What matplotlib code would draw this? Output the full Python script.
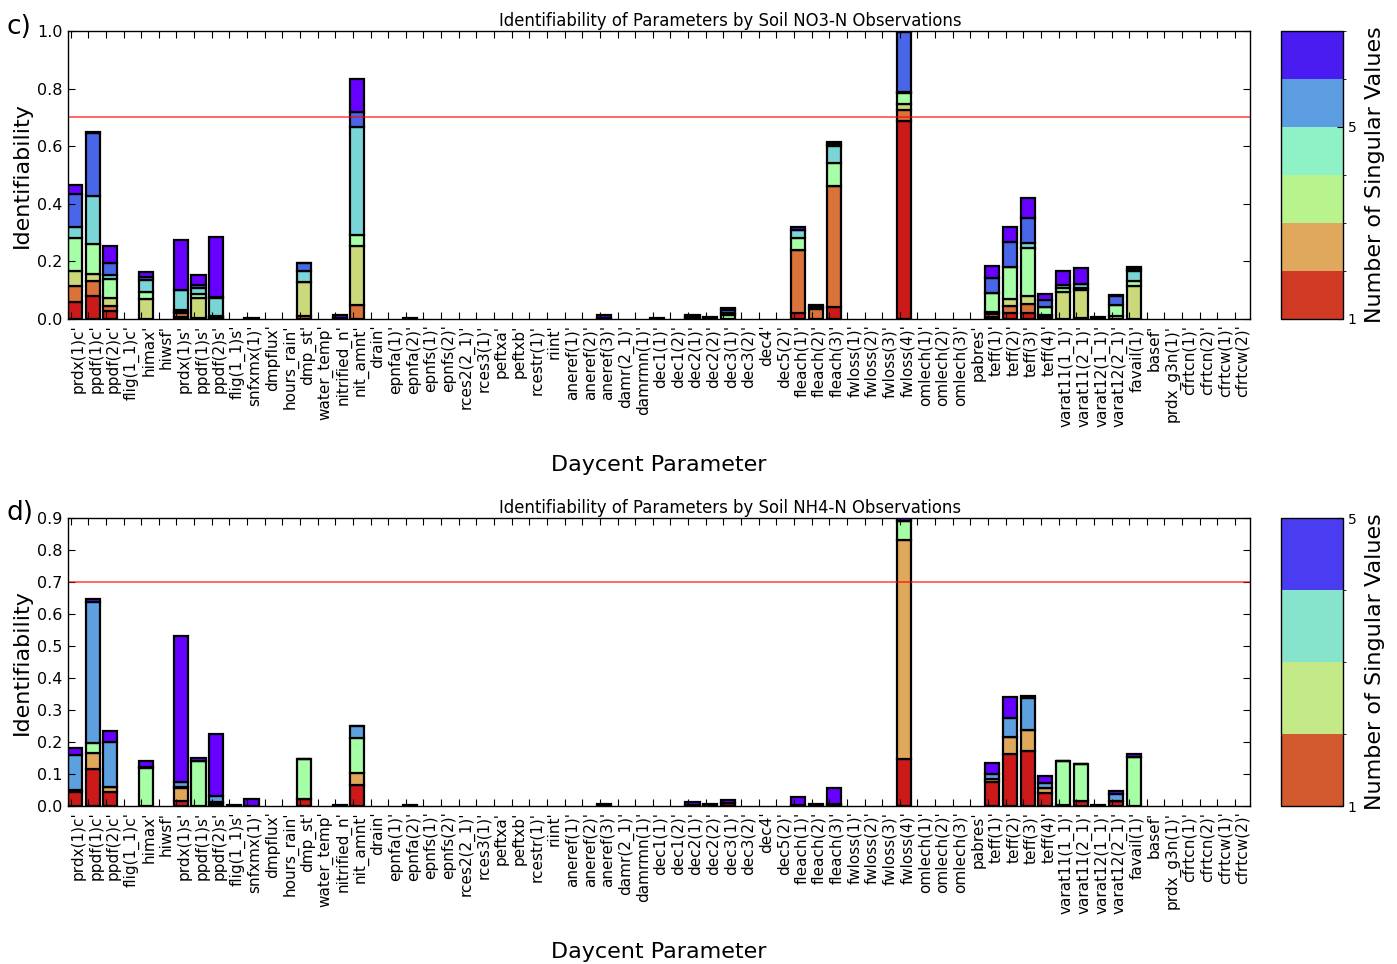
import matplotlib
matplotlib.use('Agg')

import numpy as np
import matplotlib.pyplot as plt
from matplotlib.colors import ListedColormap, BoundaryNorm
from matplotlib.colorbar import ColorbarBase

# Daycent parameters (x axis)
params = ["prdx(1)c", "ppdf(1)c", "ppdf(2)c", "flig(1_1)c", "himax", "hiwsf",
          "prdx(1)s", "ppdf(1)s", "ppdf(2)s", "flig(1_1)s", "snfxmx(1)", "dmpflux",
          "hours_rain", "dmp_st", "water_temp", "nitrified_n", "nit_amnt", "drain",
          "epnfa(1)", "epnfa(2)", "epnfs(1)", "epnfs(2)", "rces2(2_1)", "rces3(1)",
          "peftxa", "peftxb", "rcestr(1)", "riint", "aneref(1)", "aneref(2)",
          "aneref(3)", "damr(2_1)", "damrmn(1)", "dec1(1)", "dec1(2)", "dec2(1)",
          "dec2(2)", "dec3(1)", "dec3(2)", "dec4", "dec5(2)", "fleach(1)",
          "fleach(2)", "fleach(3)", "fwloss(1)", "fwloss(2)", "fwloss(3)", "fwloss(4)",
          "omlech(1)", "omlech(2)", "omlech(3)", "pabres", "teff(1)", "teff(2)",
          "teff(3)", "teff(4)", "varat11(1_1)", "varat11(2_1)", "varat12(1_1)",
          "varat12(2_1)", "favail(1)", "basef", "prdx_g3n(1)", "cfrtcn(1)",
          "cfrtcn(2)", "cfrtcw(1)", "cfrtcw(2)"]

# --- soil NO3-N: parameters with nonzero identifiability and the
# contribution of each singular vector (stacked bottom -> top)
no3_idx = [0, 1, 2, 4, 6, 7, 8, 10, 13, 15, 16, 19, 30, 33, 35, 36, 37,
           41, 42, 43, 47, 52, 53, 54, 55, 56, 57, 58, 59, 60]
no3_sv1 = [0.060, 0.080, 0.029, 0.000, 0.007, 0.002, 0.004, 0.000, 0.000, 0.000,
           0.000, 0.000, 0.000, 0.000, 0.000, 0.000, 0.000,
           0.020, 0.000, 0.043, 0.687, 0.008, 0.020, 0.020, 0.005,
           0.000, 0.003, 0.000, 0.000, 0.000]
no3_sv2 = [0.053, 0.052, 0.016, 0.000, 0.015, 0.002, 0.003, 0.000, 0.012, 0.000,
           0.049, 0.000, 0.000, 0.000, 0.000, 0.000, 0.000,
           0.220, 0.034, 0.420, 0.037, 0.008, 0.026, 0.032, 0.005,
           0.000, 0.000, 0.000, 0.000, 0.000]
no3_sv3 = [0.055, 0.023, 0.029, 0.068, 0.003, 0.070, 0.003, 0.000, 0.116, 0.000,
           0.205, 0.000, 0.000, 0.000, 0.000, 0.000, 0.000,
           0.000, 0.006, 0.000, 0.023, 0.010, 0.022, 0.029, 0.004,
           0.095, 0.098, 0.000, 0.012, 0.113]
no3_sv4 = [0.112, 0.107, 0.064, 0.026, 0.005, 0.013, 0.000, 0.000, 0.000, 0.000,
           0.038, 0.000, 0.000, 0.000, 0.004, 0.000, 0.014,
           0.040, 0.000, 0.079, 0.038, 0.063, 0.114, 0.165, 0.029,
           0.011, 0.005, 0.000, 0.037, 0.019]
no3_sv5 = [0.040, 0.164, 0.014, 0.040, 0.069, 0.020, 0.064, 0.000, 0.040, 0.000,
           0.374, 0.000, 0.000, 0.000, 0.000, 0.000, 0.006,
           0.030, 0.000, 0.058, 0.004, 0.000, 0.000, 0.017, 0.000,
           0.012, 0.015, 0.000, 0.000, 0.035]
no3_sv6 = [0.114, 0.220, 0.042, 0.011, 0.000, 0.011, 0.002, 0.000, 0.026, 0.004,
           0.054, 0.000, 0.004, 0.000, 0.004, 0.000, 0.010,
           0.000, 0.000, 0.008, 0.206, 0.055, 0.085, 0.086, 0.023,
           0.000, 0.000, 0.000, 0.031, 0.005]
no3_sv7 = [0.032, 0.005, 0.058, 0.019, 0.176, 0.035, 0.209, 0.005, 0.000, 0.011,
           0.115, 0.003, 0.010, 0.003, 0.006, 0.006, 0.007,
           0.008, 0.008, 0.006, 0.010, 0.040, 0.054, 0.071, 0.021,
           0.047, 0.055, 0.008, 0.004, 0.010]

# --- soil NH4-N
nh4_idx = [0, 1, 2, 4, 6, 7, 8, 9, 10, 13, 15, 16, 19, 30, 35, 36, 37,
           41, 42, 43, 47, 52, 53, 54, 55, 56, 57, 58, 59, 60]
nh4_sv1 = [0.045, 0.115, 0.045, 0.000, 0.017, 0.000, 0.004, 0.000, 0.000, 0.021,
           0.000, 0.066, 0.000, 0.000, 0.000, 0.000, 0.010,
           0.002, 0.000, 0.003, 0.148, 0.074, 0.161, 0.172, 0.040,
           0.003, 0.016, 0.000, 0.016, 0.000]
nh4_sv2 = [0.005, 0.050, 0.015, 0.000, 0.038, 0.000, 0.006, 0.000, 0.000, 0.000,
           0.000, 0.036, 0.000, 0.000, 0.000, 0.000, 0.000,
           0.000, 0.000, 0.002, 0.683, 0.009, 0.056, 0.065, 0.017,
           0.000, 0.000, 0.000, 0.000, 0.000]
nh4_sv3 = [0.000, 0.031, 0.000, 0.118, 0.003, 0.142, 0.004, 0.000, 0.000, 0.125,
           0.000, 0.109, 0.000, 0.000, 0.000, 0.000, 0.000,
           0.000, 0.000, 0.000, 0.059, 0.000, 0.000, 0.000, 0.000,
           0.138, 0.114, 0.000, 0.000, 0.154]
nh4_sv4 = [0.109, 0.443, 0.139, 0.004, 0.018, 0.000, 0.017, 0.000, 0.000, 0.000,
           0.000, 0.039, 0.000, 0.000, 0.004, 0.000, 0.000,
           0.000, 0.000, 0.000, 0.000, 0.017, 0.059, 0.099, 0.014,
           0.000, 0.000, 0.000, 0.022, 0.000]
nh4_sv5 = [0.021, 0.008, 0.036, 0.020, 0.455, 0.007, 0.194, 0.002, 0.023, 0.000,
           0.004, 0.000, 0.002, 0.006, 0.008, 0.005, 0.010,
           0.025, 0.005, 0.052, 0.010, 0.033, 0.066, 0.008, 0.024,
           0.000, 0.000, 0.004, 0.009, 0.007]

no3_colors = ['#cc1a1a', '#d9733a', '#ccd97a', '#a6ffa6', '#7ad6d6', '#4a66e8', '#6600ff']
nh4_colors = ['#cc1a1a', '#e0a85a', '#a6ffa6', '#5ca0e0', '#6600ff']
no3_cbar = ['#d03a24', '#e0a85c', '#b8f38d', '#8ef2c6', '#5c9ce0', '#4b1cf2']
nh4_cbar = ['#d2582e', '#c3ea86', '#86e4cc', '#4a3cf0']

W, H = 1397, 964
fig = plt.figure(figsize=(W / 100, H / 100), dpi=100)
fig.patch.set_facecolor('white')


def px(x0, y0, x1, y1):
    # pixel box -> figure fraction rectangle
    return [x0 / W, 1 - y1 / H, (x1 - x0) / W, (y1 - y0) / H]


def stacked(ax, idx, segs, colors, ymax, step):
    n = len(params)
    bottom = np.zeros(len(idx))
    x = np.array(idx, dtype=float)
    for seg, c in zip(segs, colors):
        h = np.array(seg)
        ax.bar(x, h, width=0.8, bottom=bottom, align='edge', color=c,
               edgecolor='black', linewidth=1.6)
        bottom = bottom + h
    ax.axhline(0.7, color='red', linewidth=1.1, alpha=0.75)
    ax.set_xlim(0, n)
    ax.set_ylim(0, ymax)
    ax.set_yticks(np.arange(0, ymax + 1e-6, step))
    ax.set_yticklabels(['%.1f' % v for v in np.arange(0, ymax + 1e-6, step)], fontsize=11.5)
    ax.set_xticks(np.arange(n) + 0.15)
    ax.set_xticklabels([p + "'" for p in params], rotation=90, ha='left', fontsize=11)
    ax.tick_params(direction='in', top=True, right=True, length=5, width=0.8, pad=4)
    ax.set_ylabel('Identifiability', fontsize=16)
    ax.set_xlabel('Daycent Parameter', fontsize=16, labelpad=20)
    for s in ax.spines.values():
        s.set_linewidth(1.0)


ax1 = fig.add_axes(px(68, 31, 1250, 319))
stacked(ax1, no3_idx, [no3_sv1, no3_sv2, no3_sv3, no3_sv4, no3_sv5, no3_sv6, no3_sv7],
        no3_colors, 1.0, 0.2)
ax2 = fig.add_axes(px(68, 518, 1250, 806))
stacked(ax2, nh4_idx, [nh4_sv1, nh4_sv2, nh4_sv3, nh4_sv4, nh4_sv5],
        nh4_colors, 0.9, 0.1)

fig.text(730 / W, 1 - 30 / H, 'Identifiability of Parameters by Soil NO3-N Observations',
         ha='center', va='bottom', fontsize=11.9)
fig.text(730 / W, 1 - 517 / H, 'Identifiability of Parameters by Soil NH4-N Observations',
         ha='center', va='bottom', fontsize=11.9)
fig.text(6 / W, 1 - 34 / H, 'c)', fontsize=19)
fig.text(6 / W, 1 - 520 / H, 'd)', fontsize=19)

# colour bars for the number of singular values
for box, cols in ((px(1281, 31, 1343, 319), no3_cbar), (px(1281, 518, 1343, 806), nh4_cbar)):
    cax = fig.add_axes(box)
    bounds = np.arange(1, len(cols) + 2)
    cb = ColorbarBase(cax, cmap=ListedColormap(cols),
                      norm=BoundaryNorm(bounds, len(cols)), ticks=[1, 5])
    cb.ax.set_yticklabels(['1', '5'], fontsize=10)
    cb.ax.tick_params(length=4, width=0.8, direction='in')
    cb.outline.set_linewidth(1.0)
    cb.set_label('Number of Singular Values', fontsize=16, labelpad=6)

plt.savefig('out.png', dpi=100, facecolor='white')
plt.close()
